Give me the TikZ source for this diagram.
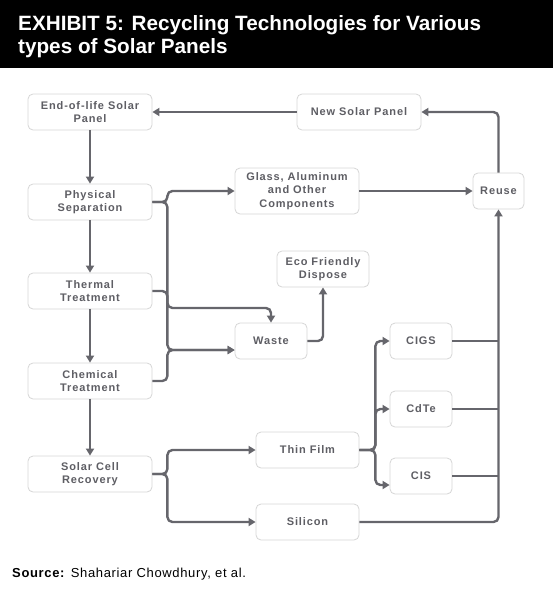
\documentclass[tikz,border=0pt]{standalone}
\usepackage{fontspec}
\setmainfont{Liberation Sans}
\newfontfamily\boxfont[LetterSpace=8]{Liberation Sans}
\newfontfamily\srcfont[LetterSpace=5]{Liberation Sans}
\usetikzlibrary{arrows.meta}
\definecolor{linec}{HTML}{66666C}
\definecolor{boxc}{HTML}{D6D6D6}
\definecolor{txtc}{HTML}{5E5E64}
\tikzset{
  box/.style={draw=boxc, line width=0.8pt, rounded corners=5pt, fill=white,
    font=\boxfont\fontsize{11}{13.5}\selectfont\bfseries, text=txtc, align=center,
    inner sep=0pt, minimum height=36pt},
  conn/.style={draw=linec, line width=2.4pt, rounded corners=5pt},
  arr/.style={conn, -{Triangle[length=7pt,width=8pt]}},
  title/.style={anchor=base west, text=white, inner sep=0pt, font=\fontsize{20.7}{24}\selectfont\bfseries}
}
\begin{document}
\begin{tikzpicture}[x=1pt,y=-1pt]
\useasboundingbox (0,0) rectangle (553,592);
\fill[black] (0,0) rectangle (553,68);
\node[title] (t1) at (18,30) {EXHIBIT 5: Recycling Technologies for Various};
\node[title] (t2) at (18,53) {types of Solar Panels};

\node[box, minimum width=124pt] (eol) at (90,112) {End-of-life Solar\\Panel};
\node[box, minimum width=124pt] (phys) at (90,202) {Physical\\Separation};
\node[box, minimum width=124pt] (therm) at (90,291) {Thermal\\Treatment};
\node[box, minimum width=124pt] (chem) at (90,381) {Chemical\\Treatment};
\node[box, minimum width=124pt] (scr) at (90,474) {Solar Cell\\Recovery};
\node[box, minimum width=124pt] (nsp) at (359,112) {New Solar Panel};
\node[box, minimum width=124pt, minimum height=46pt] (glass) at (297,191) {Glass, Aluminum\\and Other\\Components};
\node[box, minimum width=51pt] (reuse) at (498.5,191) {Reuse};
\node[box, minimum width=92pt] (eco) at (323,269) {Eco Friendly\\Dispose};
\node[box, minimum width=72pt] (waste) at (271,341) {Waste};
\node[box, minimum width=62pt] (cigs) at (421,341) {CIGS};
\node[box, minimum width=62pt] (cdte) at (421,409) {CdTe};
\node[box, minimum width=62pt] (cis) at (421,476) {CIS};
\node[box, minimum width=103pt] (thin) at (307.5,450) {Thin Film};
\node[box, minimum width=103pt] (sil) at (307.5,522) {Silicon};

\node[anchor=base west, inner sep=0pt, font=\srcfont\fontsize{13}{15}\selectfont] (src) at (12,577) {\textbf{Source:} Shahariar Chowdhury, et al.};

% main column
\draw[arr] (eol.south) -- (phys.north);
\draw[arr] (phys.south) -- (therm.north);
\draw[arr] (therm.south) -- (chem.north);
\draw[arr] (chem.south) -- (scr.north);
% top loop
\draw[arr] (nsp.west) -- (eol.east);
\draw[arr] (reuse.north) |- (nsp.east);
\draw[arr] (glass.east) -- (reuse.west);
% physical separation branches
\draw[arr] (phys.east) -- ++(15,0) |- (glass.west);
\draw[arr] (phys.east) -- ++(15,0) -- ++(0,106) -| (waste.north);
\draw[arr] (therm.east) -- ++(15,0) |- ([yshift=-9pt]waste.west);
\draw[arr] (chem.east) -- ++(15,0) |- ([yshift=-9pt]waste.west);
\draw[arr] (waste.east) -| (eco.south);
% solar cell recovery
\draw[arr] (scr.east) -- ++(15,0) |- (thin.west);
\draw[arr] (scr.east) -- ++(15,0) |- (sil.west);
\draw[arr] (thin.east) -- ++(16,0) |- (cigs.west);
\draw[arr] (thin.east) -- ++(16,0) |- (cdte.west);
\draw[arr] (thin.east) -- ++(16,0) |- ([yshift=-9pt]cis.west);
% to reuse
\draw[conn] (cigs.east) -- (cigs.east -| reuse.south);
\draw[conn] (cdte.east) -- (cdte.east -| reuse.south);
\draw[conn] (cis.east) -- (cis.east -| reuse.south);
\draw[arr] (sil.east) -| (reuse.south);
\end{tikzpicture}
\end{document}
